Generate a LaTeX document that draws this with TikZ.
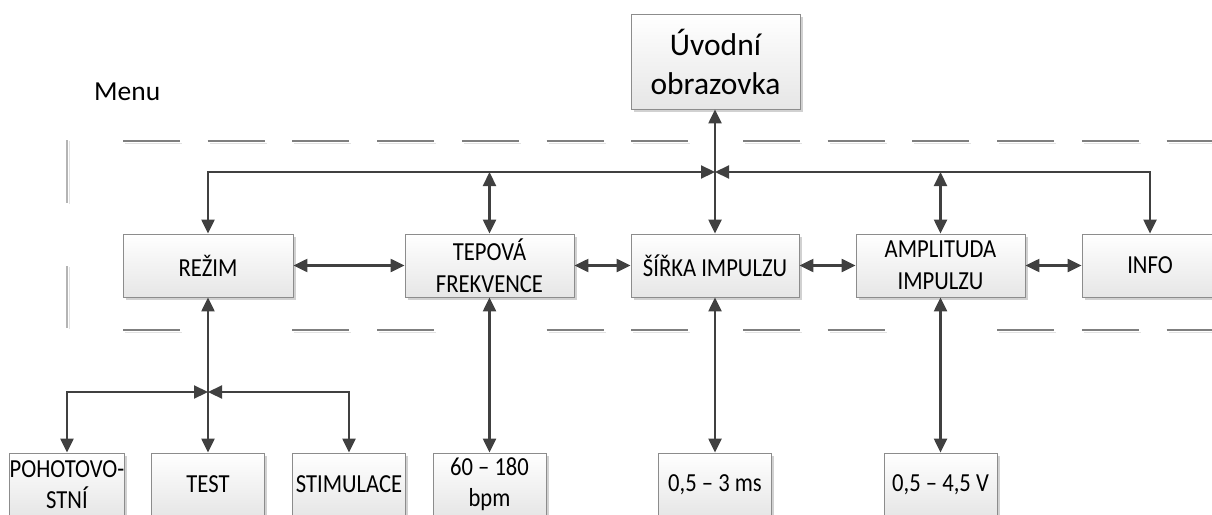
\documentclass[tikz,border=0pt]{standalone}
\usepackage{fontspec}
\setmainfont{Carlito}
\newfontfamily\boxfont[FakeStretch=0.87]{Carlito}
\usetikzlibrary{arrows.meta,shadows}
\definecolor{conncol}{HTML}{404040}
\definecolor{boxline}{HTML}{8C8C8C}
\definecolor{boxbot}{HTML}{E6E6E6}
\definecolor{dashcol}{HTML}{7F7F7F}
\definecolor{dashshadow}{HTML}{E2E2E2}
\definecolor{vdashcol}{HTML}{B4B4B4}
\tikzset{
  boxnode/.style={draw=boxline, line width=0.8pt, top color=white, bottom color=boxbot,
    inner sep=0pt, align=center, text=black,
    drop shadow={shadow xshift=2.5pt, shadow yshift=-2.5pt, fill=black!18, opacity=1}},
  midbox/.style={boxnode, minimum height=63pt, font=\boxfont\fontsize{26}{32}\selectfont},
  lowbox/.style={boxnode, minimum width=113pt, minimum height=63pt, font=\boxfont\fontsize{26}{31}\selectfont},
  conn/.style={draw=conncol, line width=2.2pt},
  dbl/.style={conn, {Triangle[length=14pt,width=13pt]}-{Triangle[length=14pt,width=13pt]}},
  sgl/.style={conn, -{Triangle[length=14pt,width=13pt]}},
  hdash/.style={draw=dashcol, line width=1.4pt},
  hdashsh/.style={draw=dashshadow, line width=1.4pt},
  vdash/.style={draw=vdashcol, line width=1.4pt},
}
\begin{document}
\begin{tikzpicture}[x=1pt,y=-1pt]
\useasboundingbox (0,0) rectangle (1212,514);
\clip (0,0) rectangle (1212,514);

% dashed separator lines
\foreach \k in {0,...,6} {
  \draw[hdashsh] ({123+84.7*\k+2},143.5) -- ({180+84.7*\k+2},143.5);
  \draw[hdash] ({123+84.7*\k},141) -- ({180+84.7*\k},141);
}
\foreach \k in {0,...,5} {
  \draw[hdashsh] ({743+84.7*\k+2},143.5) -- ({800+84.7*\k+2},143.5);
  \draw[hdash] ({743+84.7*\k},141) -- ({800+84.7*\k},141);
}
\foreach \k in {0,2,3,5,6} {
  \draw[hdashsh] ({123+84.7*\k+2},332.5) -- ({180+84.7*\k+2},332.5);
  \draw[hdash] ({123+84.7*\k},330) -- ({180+84.7*\k},330);
}
\foreach \k in {0,1,3,4,5} {
  \draw[hdashsh] ({743+84.7*\k+2},332.5) -- ({800+84.7*\k+2},332.5);
  \draw[hdash] ({743+84.7*\k},330) -- ({800+84.7*\k},330);
}
\draw[draw=dashshadow, line width=1.4pt] (69.5,141) -- (69.5,204) (69.5,267) -- (69.5,329);
\draw[vdash] (67,140) -- (67,203) (67,266) -- (67,328);

% label
\node[anchor=base west, font=\fontsize{27.5}{33}\selectfont, inner sep=0pt] (menu) at (94,100) {Menu};

% top box
\node[boxnode, minimum width=169pt, minimum height=95pt, font=\fontsize{31.5}{39}\selectfont] (uvod) at (715.5,61.5) {Úvodní\\obrazovka};

% menu row
\node[midbox, minimum width=170pt] (rezim) at (208,265.5) {REŽIM};
\node[midbox, minimum width=169pt] (tep) at (489.5,265.5) {TEPOVÁ\\FREKVENCE};
\node[midbox, minimum width=168pt] (sirka) at (715,265.5) {ŠÍŘKA IMPULZU};
\node[midbox, minimum width=169pt] (ampl) at (940.5,265.5) {AMPLITUDA\\IMPULZU};
\node[midbox, minimum width=136pt] (info) at (1150,265.5) {INFO};

% bottom row
\node[lowbox, minimum width=114pt] (poh) at (67,484.5) {POHOTOVO-\\STNÍ};
\node[lowbox] (test) at (208,484.5) {TEST};
\node[lowbox] (stim) at (349,484.5) {STIMULACE};
\node[lowbox] (bpm) at (489.5,484.5) {60 – 180\\bpm};
\node[lowbox] (ms) at (715,484.5) {0,5 – 3 ms};
\node[lowbox] (volt) at (940.5,484.5) {0,5 – 4,5 V};

% bus coordinates
\coordinate (barC) at (715,172);
\coordinate (barT) at (489.5,172);
\coordinate (barA) at (940.5,172);
\coordinate (jB) at (208,392);

% top connectors
\draw[sgl] (barC) -- (barC |- uvod.south);
\draw[sgl] (barC) -- (sirka.north);
\draw[dbl] (rezim.north) |- (barC);
\draw[dbl] (info.north) |- (barC);
\draw[dbl] (barT) -- (tep.north);
\draw[dbl] (barA) -- (ampl.north);

% horizontal connectors
\draw[dbl] (rezim.east) -- (tep.west);
\draw[dbl] (tep.east) -- (sirka.west);
\draw[dbl] (sirka.east) -- (ampl.west);
\draw[dbl] (ampl.east) -- (info.west);

% lower connectors
\draw[dbl] (rezim.south) -- (test.north);
\draw[dbl] (poh.north) |- (jB);
\draw[dbl] (stim.north) |- (jB);
\draw[dbl] (tep.south) -- (bpm.north);
\draw[dbl] (sirka.south) -- (ms.north);
\draw[dbl] (ampl.south) -- (volt.north);
\end{tikzpicture}
\end{document}
